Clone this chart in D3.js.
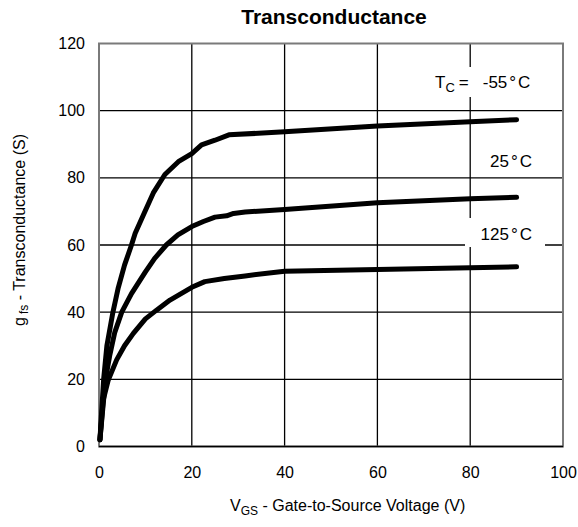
<!DOCTYPE html>
<html><head><meta charset="utf-8">
<script src="https://cdn.jsdelivr.net/npm/d3@7"></script>
<style>body{margin:0;background:#fff}text{font-family:"Liberation Sans",Arial,sans-serif;fill:#000}</style>
</head><body><svg id="c" width="578" height="527"></svg>
<script>
const xTicks = [0, 20, 40, 60, 80, 100];
const yTicks = [0, 20, 40, 60, 80, 100, 120];
const vgsM55 = [0.2, 1, 1.7, 3, 4.1, 5.5, 7, 7.8, 9.9, 11.7, 14.2, 17.1, 20, 22.1, 25, 28, 40, 60, 80, 90];
const gfsM55 = [2, 20, 30, 40, 47, 54, 60, 63.5, 70, 75.5, 81, 84.8, 87.2, 89.8, 91.2, 92.8, 93.7, 95.4, 96.7, 97.3];
const vgs25 = [0.2, 1.4, 2.3, 3.4, 4.9, 7, 10, 12, 14.5, 17, 20, 22.5, 25, 27.5, 29, 31.5, 40, 60, 80, 90];
const gfs25 = [2, 20, 27, 34, 40, 45.5, 52, 56, 60, 63, 65.5, 67, 68.3, 68.7, 69.4, 69.8, 70.6, 72.6, 73.8, 74.2];
const vgs125 = [0.2, 0.9, 2, 3.8, 5.5, 7.4, 10, 12.4, 15.3, 20, 22.8, 27, 31.5, 40, 60, 80, 90];
const gfs125 = [2, 13.8, 19.8, 25.8, 30, 33.7, 38, 40.6, 43.6, 47.4, 49.1, 50, 50.8, 52.2, 52.7, 53.2, 53.5];

const svg = d3.select("#c");
const L = 99, R = 563, T = 43.5, B = 446.5;
const x = d3.scaleLinear().domain([0, 100]).range([L, R]);
const y = d3.scaleLinear().domain([0, 120]).range([B, T]);

// grid
const g = svg.append("g");
g.selectAll(".vg").data(xTicks.slice(1, -1)).enter().append("line")
  .attr("x1", d => x(d)).attr("x2", d => x(d)).attr("y1", T).attr("y2", B)
  .attr("stroke", "#000").attr("stroke-width", 1.3);
g.selectAll(".hg").data(yTicks.slice(1, -1)).enter().append("line")
  .attr("y1", d => y(d)).attr("y2", d => y(d)).attr("x1", L).attr("x2", R)
  .attr("stroke", "#000").attr("stroke-width", 1.3);
svg.append("rect").attr("x", L).attr("y", T).attr("width", R - L).attr("height", B - T)
  .attr("fill", "none").attr("stroke", "#7a7a7a").attr("stroke-width", 2);
svg.append("line").attr("x1", L).attr("x2", R).attr("y1", B).attr("y2", B).attr("stroke", "#000").attr("stroke-width", 1.5);

// axes labels via d3 axes
const ax = svg.append("g").attr("transform", `translate(0,${B})`)
  .call(d3.axisBottom(x).tickValues(xTicks).tickSize(0).tickPadding(20));
const ay = svg.append("g").attr("transform", `translate(${L},0)`)
  .call(d3.axisLeft(y).tickValues(yTicks).tickSize(0).tickPadding(14));
[ax, ay].forEach(a => { a.select(".domain").remove(); a.selectAll("text").attr("font-size", 16).attr("font-family", "Liberation Sans, Arial, sans-serif"); });

// curves
const line = d3.line().x(d => x(d[0])).y(d => y(d[1]));
const series = [d3.zip(vgsM55, gfsM55), d3.zip(vgs25, gfs25), d3.zip(vgs125, gfs125)];
svg.selectAll(".curve").data(series).enter().append("path")
  .attr("d", line).attr("fill", "none").attr("stroke", "#000")
  .attr("stroke-width", 5).attr("stroke-linejoin", "round").attr("stroke-linecap", "round");

// labels with white boxes
svg.append("rect").attr("x", 428).attr("y", 67).attr("width", 112).attr("height", 30).attr("fill", "#fff");
svg.append("rect").attr("x", 465).attr("y", 218).attr("width", 80).attr("height", 29).attr("fill", "#fff");
function deg(sel, num, dx0) {
  sel.append("tspan").attr("dx", dx0 || 0).text(num);
  sel.append("tspan").attr("dx", 2).text("\u00B0");
  sel.append("tspan").attr("dx", 2).text("C");
}
const t1 = svg.append("text").attr("x", 435).attr("y", 88).attr("font-size", 17);
t1.append("tspan").text("T");
t1.append("tspan").attr("font-size", 13).attr("dy", 4).text("C");
t1.append("tspan").attr("dy", -4).attr("dx", 4).text("=");
deg(t1, "-55", 14);
const t2 = svg.append("text").attr("x", 532).attr("y", 167).attr("text-anchor", "end").attr("font-size", 17);
deg(t2, "25");
const t3 = svg.append("text").attr("x", 532).attr("y", 240).attr("text-anchor", "end").attr("font-size", 17);
deg(t3, "125");

// title
svg.append("text").attr("x", 334).attr("y", 24).attr("text-anchor", "middle")
  .attr("font-size", 21).attr("font-weight", "bold").text("Transconductance");

// x title
const xt = svg.append("text").attr("x", 230).attr("y", 511).attr("font-size", 16);
xt.append("tspan").text("V");
xt.append("tspan").attr("font-size", 12).attr("dy", 4).text("GS");
xt.append("tspan").attr("dy", -4).text(" -  Gate-to-Source Voltage (V)");

// y title
const yt = svg.append("text").attr("transform", "translate(25,230) rotate(-90)")
  .attr("text-anchor", "middle").attr("font-size", 16);
yt.append("tspan").text("g");
yt.append("tspan").attr("font-size", 12).attr("dy", 3).attr("dx", 3).text("fs");
yt.append("tspan").attr("dy", -3).text("  -  Transconductance (S)");
</script></body></html>
